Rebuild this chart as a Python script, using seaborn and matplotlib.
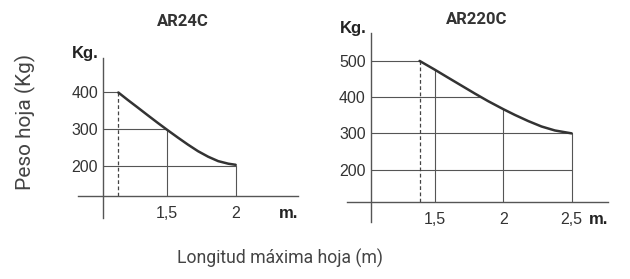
import numpy as np
import pandas as pd
import matplotlib
matplotlib.use("Agg")
import matplotlib.pyplot as plt
import matplotlib.transforms as mtransforms
import seaborn as sns

sns.set_style("white")
plt.rcParams['font.family'] = ['Liberation Sans', 'DejaVu Sans']

# ---- data ----
titles = ["AR24C", "AR220C"]
# AR24C curve
ar24_x = [1.142, 1.210, 1.284, 1.357, 1.431, 1.5, 1.578, 1.651, 1.725, 1.799, 1.872, 1.946, 2.0]
ar24_y = [400, 380, 359, 338, 317, 298, 277, 258, 240, 225, 213, 206, 203]
ar24_yticks = [200, 300, 400]
ar24_xticks = [1.5, 2.0]
ar24_xticklabels = ["1,5", "2"]
# AR220C curve
ar220_x = [1.390, 1.5, 1.597, 1.695, 1.793, 1.890, 2.0, 2.085, 2.183, 2.280, 2.378, 2.5]
ar220_y = [500, 476, 454, 432, 410, 389, 367, 351, 334, 319, 308, 300]
ar220_yticks = [200, 300, 400, 500]
ar220_xticks = [1.5, 2.0, 2.5]
ar220_xticklabels = ["1,5", "2", "2,5"]
y_unit = "Kg."
x_unit = "m."
ylabel = "Peso hoja (Kg)"
xlabel = "Longitud máxima hoja (m)"

W, H = 630, 279
fig = plt.figure(figsize=(W / 100, H / 100), dpi=100)

def px_axes(l, r, t, b):
    return fig.add_axes([l / W, 1 - b / H, (r - l) / W, (b - t) / H])

AX_C = "#555555"
GRID_C = "#555555"
CURVE_C = "#333333"
TXT_C = "#333333"

def draw(ax, title, cx, cy, yticks, xticks, xtl, xlim, ylim, origin, title_x, title_y):
    ax.set_xlim(*xlim)
    ax.set_ylim(*ylim)
    x0, y0 = origin
    for s in ["top", "right"]:
        ax.spines[s].set_visible(False)
    ax.spines["left"].set_position(("data", x0))
    ax.spines["bottom"].set_position(("data", y0))
    for s in ["left", "bottom"]:
        ax.spines[s].set_color(AX_C)
        ax.spines[s].set_linewidth(1.0)
    ax.set_yticks(yticks)
    ax.set_yticklabels([str(v) for v in yticks])
    ax.set_xticks(xticks)
    ax.set_xticklabels(xtl)
    ax.tick_params(axis="y", length=0, pad=3.5, labelsize=11.5, colors=TXT_C)
    ax.tick_params(axis="x", length=0, pad=7.5, labelsize=11.5, colors=TXT_C)
    cx = np.asarray(cx); cy = np.asarray(cy)
    # horizontal guide lines up to curve
    for yv in yticks:
        xe = np.interp(yv, cy[::-1], cx[::-1])
        ax.hlines(yv, x0, xe, color=GRID_C, lw=0.8, zorder=1)
    # vertical guide lines up to curve
    for xv in xticks:
        ye = np.interp(xv, cx, cy)
        ax.vlines(xv, y0, ye, color=GRID_C, lw=0.8, zorder=1)
    # dashed line at curve start
    ax.vlines(cx[0], y0, cy[0], color="#444444", lw=0.9, linestyles=(0, (3, 2)), zorder=1)
    df = pd.DataFrame({"x": cx, "y": cy})
    sns.lineplot(data=df, x="x", y="y", ax=ax, color=CURVE_C, lw=1.8, sort=False, zorder=3)
    for ln in ax.lines:
        ln.set_solid_joinstyle("round")
        ln.set_solid_capstyle("round")
    ax.set_xlabel("")
    ax.set_ylabel("")
    # unit labels
    trans_y = mtransforms.blended_transform_factory(ax.transData, ax.transAxes)
    ax.annotate(y_unit, xy=(x0, 1.0), xycoords=trans_y, xytext=(-3, 0),
                textcoords="offset points", ha="right", va="baseline",
                fontsize=12, fontweight="bold", color="#222222")
    ax.annotate(x_unit, xy=(1.0, y0), xycoords=mtransforms.blended_transform_factory(ax.transAxes, ax.transData),
                xytext=(0, -7.5), textcoords="offset points", ha="right", va="top",
                fontsize=12, fontweight="bold", color="#222222")
    fig.text(title_x / W, 1 - title_y / H, title, ha="center", va="center",
             fontsize=12, fontweight="bold", color=TXT_C, family=["Roboto", "DejaVu Sans"])

ax1 = px_axes(78, 298, 58, 218)
draw(ax1, titles[0], ar24_x, ar24_y, ar24_yticks, ar24_xticks, ar24_xticklabels,
     xlim=(0.847, 2.456), ylim=(58, 494), origin=(1.03, 119),
     title_x=183, title_y=21)

ax2 = px_axes(346.7, 608, 33, 222)
draw(ax2, titles[1], ar220_x, ar220_y, ar220_yticks, ar220_xticks, ar220_xticklabels,
     xlim=(0.858, 2.765), ylim=(55.5, 577), origin=(1.033, 111.7),
     title_x=476.7, title_y=19)

fig.text(25 / W, 1 - 122 / H, ylabel, rotation=90, ha="center", va="center",
         fontsize=15, color="#444444", family=["Roboto", "DejaVu Sans"])
fig.text(280 / W, 1 - 258 / H, xlabel, ha="center", va="center",
         fontsize=12.7, color="#444444", family=["Roboto", "DejaVu Sans"])

fig.savefig("out.png", dpi=100)
